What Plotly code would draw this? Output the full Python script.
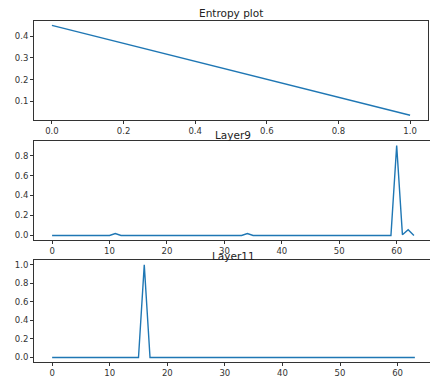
import plotly.graph_objects as go

# ---- data ----
entropy_x = [0.0, 1.0]
entropy_y = [0.45, 0.035]

layer_idx = list(range(64))
layer9 = [0.0] * 64
layer9[11] = 0.02
layer9[34] = 0.02
layer9[44] = 0.005
layer9[60] = 0.9
layer9[61] = 0.008
layer9[62] = 0.058
layer9[63] = 0.0

layer11 = [0.0] * 64
layer11[16] = 1.0
layer11[20] = 0.005

titles = ["Entropy plot", "Layer9", "Layer11"]
title_centers = [13.5, 136.5, 259]

# page has an 8px body margin, so the figure is drawn 8px in from the corner
OFF = 8
W, H = 438 - OFF, 378 - OFF
LINE = "#1f77b4"
AX = "#333333"

fig = go.Figure()
fig.add_trace(go.Scatter(x=entropy_x, y=entropy_y, mode="lines",
                         line=dict(color=LINE, width=1.4), xaxis="x", yaxis="y"))
fig.add_trace(go.Scatter(x=layer_idx, y=layer9, mode="lines",
                         line=dict(color=LINE, width=1.4), xaxis="x2", yaxis="y2"))
fig.add_trace(go.Scatter(x=layer_idx, y=layer11, mode="lines",
                         line=dict(color=LINE, width=1.4), xaxis="x3", yaxis="y3"))

def py(px):
    return 1 - (px - OFF) / H

def px_(p):
    return (p - OFF) / W

panels = [
    dict(x=(34, 428), y=(21, 121)),
    dict(x=(34, 432), y=(142.5, 242.5)),
    dict(x=(34, 433), y=(263, 366)),
]

axcommon = dict(showgrid=False, zeroline=False, showline=True, mirror=True,
                linecolor=AX, linewidth=1, ticks="outside", ticklen=3,
                tickcolor=AX, tickfont=dict(size=8.5, color="#333333",
                                            family="DejaVu Sans"))

layout = {}
xranges = [(-0.05, 1.05), (-3.15, 66.15), (-3.15, 66.15)]
yranges = [(0.01425, 0.47075), (-0.045, 0.945), (-0.05, 1.05)]
xticks = [[0, 0.2, 0.4, 0.6, 0.8, 1.0], [0, 10, 20, 30, 40, 50, 60], [0, 10, 20, 30, 40, 50, 60]]
yticks = [[0.1, 0.2, 0.3, 0.4], [0, 0.2, 0.4, 0.6, 0.8], [0, 0.2, 0.4, 0.6, 0.8, 1.0]]
xfmt = [".1f", "d", "d"]
for i, p in enumerate(panels):
    s = "" if i == 0 else str(i + 1)
    layout["xaxis" + s] = dict(axcommon, domain=[px_(p["x"][0]), px_(p["x"][1])],
                               range=list(xranges[i]), tickvals=xticks[i],
                               tickformat=xfmt[i], anchor="y" + s)
    layout["yaxis" + s] = dict(axcommon, domain=[py(p["y"][1]), py(p["y"][0])],
                               range=list(yranges[i]), tickvals=yticks[i],
                               tickformat=".1f", anchor="x" + s)

annotations = []
for i, p in enumerate(panels):
    annotations.append(dict(text=titles[i], x=(px_(p["x"][0]) + px_(p["x"][1])) / 2,
                            y=py(title_centers[i]), xref="paper", yref="paper",
                            xanchor="center", yanchor="middle", showarrow=False,
                            borderpad=0,
                            font=dict(size=10.5, color="#222222", family="DejaVu Sans")))

fig.update_layout(width=W, height=H, margin=dict(l=0, r=0, t=0, b=0),
                  paper_bgcolor="white", plot_bgcolor="white", showlegend=False,
                  annotations=annotations, **layout)

fig.write_html("out.html")
